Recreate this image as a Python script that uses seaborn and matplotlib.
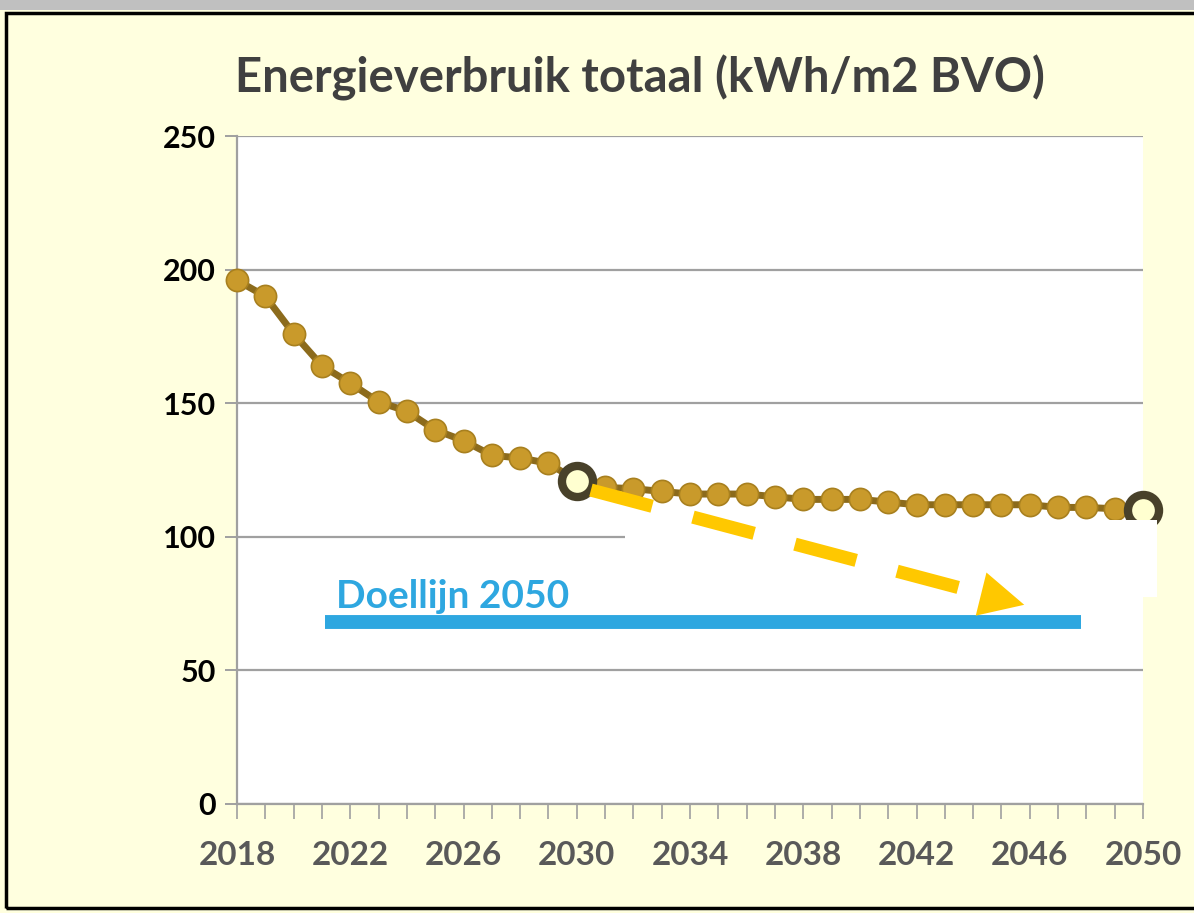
import pandas as pd
import seaborn as sns
import matplotlib.pyplot as plt
from matplotlib.patches import Rectangle

# data
jaren = [2018, 2019, 2020, 2021, 2022, 2023, 2024, 2025, 2026, 2027, 2028,
         2029, 2030, 2031, 2032, 2033, 2034, 2035, 2036, 2037, 2038, 2039,
         2040, 2041, 2042, 2043, 2044, 2045, 2046, 2047, 2048, 2049, 2050]
verbruik = [196, 190, 176, 164, 157.5, 150.5, 147, 140, 136, 130.5, 129.5,
            127.5, 121, 118.5, 118, 117, 116, 116, 116, 115, 114, 114,
            114, 113, 112, 112, 112, 112, 112, 111, 111, 110.5, 110]
markeer_jaren = [2030, 2050]
doel_waarde = 68
doel_jaren = [2021.1, 2047.8]
x_ticks = [2018, 2022, 2026, 2030, 2034, 2038, 2042, 2046, 2050]
y_ticks = [0, 50, 100, 150, 200, 250]

df = pd.DataFrame({"jaar": jaren, "kwh": verbruik})
df_markeer = df[df["jaar"].isin(markeer_jaren)]

sns.set_style("white")
plt.rcParams["font.family"] = ["Lato", "DejaVu Sans"]

fig = plt.figure(figsize=(11.94, 9.13), dpi=100, facecolor="#FFFFDF")
ax = fig.add_axes([0.1985, 0.1194, 0.7588, 0.7316])
ax.set_facecolor("white")

# grid + axes
ax.set_xlim(2018, 2050)
ax.set_ylim(0, 250)
ax.set_yticks(y_ticks)
ax.set_xticks(x_ticks)
ax.set_xticks(jaren, minor=True)
ax.yaxis.grid(True, color="#A0A0A0", lw=1.6, zorder=0)
ax.set_axisbelow(True)
for s in ["top", "right"]:
    ax.spines[s].set_visible(False)
for s in ["left", "bottom"]:
    ax.spines[s].set_color("#A0A0A0")
    ax.spines[s].set_linewidth(1.6)
ax.tick_params(axis="y", left=True, length=9, width=1.4, color="#A0A0A0",
               pad=6, labelsize=22, labelcolor="black")
ax.tick_params(axis="x", which="both", bottom=True, length=11, width=1.2,
               color="#A0A0A0")
ax.tick_params(axis="x", which="major", pad=16, labelsize=24, labelcolor="#595959")
for lbl in ax.get_yticklabels() + ax.get_xticklabels():
    lbl.set_fontweight("bold")

# hoofdlijn
sns.lineplot(data=df, x="jaar", y="kwh", ax=ax, color="#8C6B1C", lw=5,
             marker="o", markersize=16, markerfacecolor="#C99A2B",
             markeredgecolor="#A8801F", markeredgewidth=1.2, clip_on=False,
             zorder=3)
sns.scatterplot(data=df_markeer, x="jaar", y="kwh", ax=ax, s=500,
                color="#FFFFD0", edgecolor="#48412A", linewidth=6,
                clip_on=False, zorder=4)

# witte vlak over de grafiek
ax.add_patch(Rectangle((2031.7, 77.5), 18.8, 28.8, facecolor="white",
                       edgecolor="none", clip_on=False, zorder=5))

# doellijn
ax.plot(doel_jaren, [doel_waarde, doel_waarde], color="#2EA7E0", lw=10,
        solid_capstyle="butt", zorder=6)
ax.text(2021.5, 73.5, "Doellijn 2050", color="#2EA7E0", fontsize=28,
        fontweight="bold", ha="left", va="baseline", zorder=7)

# gestippelde pijl
ax.plot([2030.5, 2044.2], [117.5, 79], color="#FFC800", lw=9.5,
        linestyle=(0, (4.8, 3.2)), solid_capstyle="butt",
        dash_capstyle="butt", zorder=7, clip_on=False)
ax.annotate("", xy=(2045.9, 74.3), xytext=(2044.0, 79.3),
            arrowprops=dict(arrowstyle="-|>,head_length=1.6,head_width=0.8",
                            color="#FFC800", lw=0, mutation_scale=20),
            zorder=8)

ax.set_xlabel("")
ax.set_ylabel("")

fig.text(0.536, 0.915, "Energieverbruik totaal (kWh/m2 BVO)", ha="center",
         va="center", fontsize=34, fontweight="bold", color="#404040")

# rand van het kader
fig.add_artist(Rectangle((0, 0.989), 1, 0.011, transform=fig.transFigure,
                         facecolor="#C0C0C0", edgecolor="none"))
fig.add_artist(Rectangle((0.005, 0.005), 1.2, 0.981, transform=fig.transFigure,
                         facecolor="none", edgecolor="black", lw=2.5))

fig.savefig("out.png", dpi=100, facecolor=fig.get_facecolor())
